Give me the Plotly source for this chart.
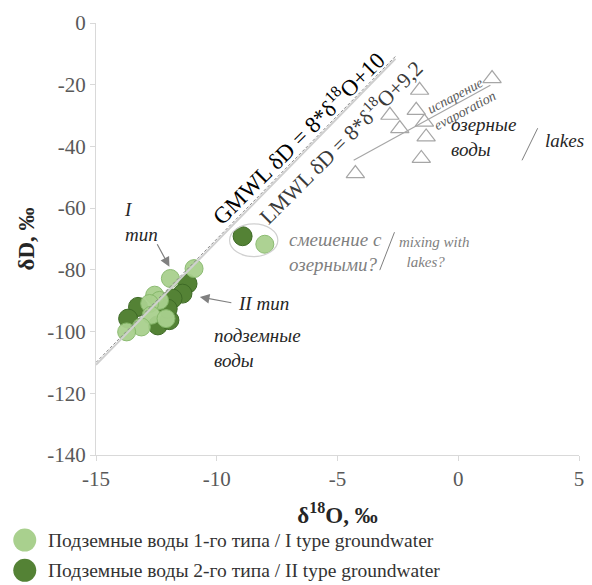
import plotly.graph_objects as go

# ---- data ----
type1_x = [-10.94, -11.92, -12.57, -12.37, -12.78, -12.71, -12.10, -13.12, -13.73, -8.01]
type1_y = [-79.6, -82.8, -88.2, -89.9, -90.9, -94.7, -95.8, -98.5, -100.1, -71.7]
type2_x = [-11.21, -11.42, -11.83, -13.26, -13.67, -12.44, -11.96, -12.03, -8.93]
type2_y = [-84.5, -87.7, -89.3, -92.0, -95.8, -98.0, -96.3, -92.6, -69.1]
lake_x = [1.40, -1.60, -2.83, -1.74, -2.42, -1.40, -1.33, -1.53, -4.26]
lake_y = [-18.0, -21.8, -29.9, -28.3, -34.2, -32.1, -36.9, -43.9, -48.8]
mix_x = [-8.93, -8.01]
mix_y = [-69.1, -71.7]
evap_x = [-4.33, 1.33]
evap_y = [-44.5, -20.2]
mwl_x = [-15, -2.6]
gmwl_slope, gmwl_icpt = 8, 10
lmwl_slope, lmwl_icpt = 8, 9.2
x_ticks = [-15, -10, -5, 0, 5]
x_ticklabels = ["-15", "-10", "-5", "0", "5"]
y_ticks = [-140, -120, -100, -80, -60, -40, -20, 0]
y_ticklabels = ["-140", "-120", "-100", "-80", "-60", "-40", "-20", "0"]

LIGHT = "#a9d08e"
DARK = "#548235"
FONT = "Liberation Serif, Times New Roman, serif"

fig = go.Figure()

fig.add_trace(go.Scatter(x=type2_x, y=type2_y, mode="markers", showlegend=False,
                         marker=dict(size=19, color=DARK, line=dict(color="#3e6a26", width=1))))
fig.add_trace(go.Scatter(x=type1_x, y=type1_y, mode="markers", showlegend=False,
                         marker=dict(size=18, color=LIGHT, opacity=0.95,
                                     line=dict(color="#86b86a", width=1))))
fig.add_trace(go.Scatter(x=lake_x, y=lake_y, mode="markers", showlegend=False,
                         marker=dict(symbol="triangle-up-open", size=16, color="#a6a6a6",
                                     line=dict(color="#a6a6a6", width=1.2))))
fig.add_trace(go.Scatter(x=evap_x, y=evap_y, mode="lines", showlegend=False,
                         line=dict(color="#a6a6a6", width=1.2)))
fig.add_trace(go.Scatter(x=mwl_x, y=[lmwl_slope * v + lmwl_icpt for v in mwl_x], mode="lines",
                         showlegend=False, line=dict(color="#cfcfcf", width=2)))
fig.add_trace(go.Scatter(x=mwl_x, y=[gmwl_slope * v + gmwl_icpt for v in mwl_x], mode="lines",
                         showlegend=False, line=dict(color="#8c8c8c", width=1, dash="3px,2px")))

shapes = []
# ellipse around mixing points
cx = sum(mix_x) / len(mix_x)
cy = sum(mix_y) / len(mix_y)
shapes.append(dict(type="circle", xref="x", yref="y", x0=cx - 1.0, x1=cx + 1.0,
                   y0=cy - 5.3, y1=cy + 5.3, line=dict(color="#d0d0d0", width=1.2)))
# slashes
shapes.append(dict(type="line", xref="x", yref="y", x0=2.64, y0=-44.5, x1=3.29, y1=-34.1,
                   line=dict(color="#7f7f7f", width=1)))
shapes.append(dict(type="line", xref="x", yref="y", x0=-3.25, y0=-80.1, x1=-2.64, y1=-67.8,
                   line=dict(color="#7f7f7f", width=1)))

# manual legend
legend_items = [("Подземные воды 1-го типа / I type groundwater", LIGHT),
                ("Подземные воды 2-го типа / II type groundwater", DARK)]
leg_y = [-0.197, -0.267]
annotations = []
for (label, col), ly in zip(legend_items, leg_y):
    shapes.append(dict(type="circle", xref="paper", yref="paper", xsizemode="pixel",
                       ysizemode="pixel", xanchor=-0.1475, yanchor=ly,
                       x0=-11.5, x1=11.5, y0=-11.5, y1=11.5,
                       fillcolor=col, line=dict(color=col, width=0)))
    annotations.append(dict(xref="paper", yref="paper", x=-0.1045, y=ly, text=label,
                            showarrow=False, xanchor="left", yanchor="middle",
                            font=dict(family=FONT, size=19.5, color="#333333")))


def note(x, y, text, size=19, color="#262626", angle=0, xanchor="center"):
    annotations.append(dict(x=x, y=y, xref="x", yref="y", text=text, showarrow=False,
                            textangle=angle, xanchor=xanchor, align="left",
                            font=dict(family=FONT, size=size, color=color)))


note(-6.64, -37.2, "GMWL δD = 8*δ<sup>18</sup>O+10", size=23, color="#000000", angle=-45)
note(-4.88, -38.3, "LMWL δD = 8*δ<sup>18</sup>O+9,2", size=21.5, color="#3a3a3a", angle=-45)
note(-0.10, -23.6, "<i>испарение</i>", size=14, color="#595959", angle=-28)
note(0.28, -28.2, "<i>evaporation</i>", size=14, color="#595959", angle=-28)
note(-0.39, -37.1, "<i>озерные<br>воды</i>", xanchor="left")
note(3.5, -38.0, "<i>lakes</i>", xanchor="left")
note(-7.09, -74.3, "<i>смешение с<br>озерными?</i>", size=19, color="#7f7f7f", xanchor="left")
note(-2.55, -74.3, "<i>mixing with<br>  lakes?</i>", size=15, color="#7f7f7f", xanchor="left")
note(-13.92, -64.6, "<i>I<br>тип</i>", xanchor="left")
note(-9.22, -90.8, "<i>II тип</i>", xanchor="left")
note(-10.2, -105.4, "<i>подземные<br>воды</i>", xanchor="left")

annotations.append(dict(x=-11.96, y=-79.0, xref="x", yref="y", text="", showarrow=True,
                        ax=-13, ay=-24, arrowcolor="#808080", arrowhead=2, arrowsize=1.6,
                        arrowwidth=1.2))
annotations.append(dict(x=-10.70, y=-88.8, xref="x", yref="y", text="", showarrow=True,
                        ax=33, ay=6, arrowcolor="#808080", arrowhead=2, arrowsize=1.6,
                        arrowwidth=1.2))

axis_common = dict(showgrid=False, zeroline=False, showline=True, linecolor="#d9d9d9",
                   linewidth=1, ticks="outside", ticklen=5, tickcolor="#d9d9d9",
                   tickfont=dict(family=FONT, size=21, color="#595959"))

fig.update_layout(
    width=592, height=585,
    margin=dict(l=96, r=8, t=23, b=130),
    paper_bgcolor="white", plot_bgcolor="white",
    showlegend=False,
    font=dict(family=FONT),
    xaxis=dict(range=[-15, 5], tickvals=x_ticks, ticktext=x_ticklabels, **axis_common,
               title=dict(text="<b>δ<sup>18</sup>O, ‰</b>", standoff=16,
                          font=dict(family=FONT, size=23, color="#262626"))),
    yaxis=dict(range=[-140, 0], tickvals=y_ticks, ticktext=y_ticklabels, **axis_common,
               title=dict(text="<b>δD, ‰</b>", standoff=6,
                          font=dict(family=FONT, size=23, color="#262626"))),
    shapes=shapes,
    annotations=annotations,
)

fig.write_html("out.html")
